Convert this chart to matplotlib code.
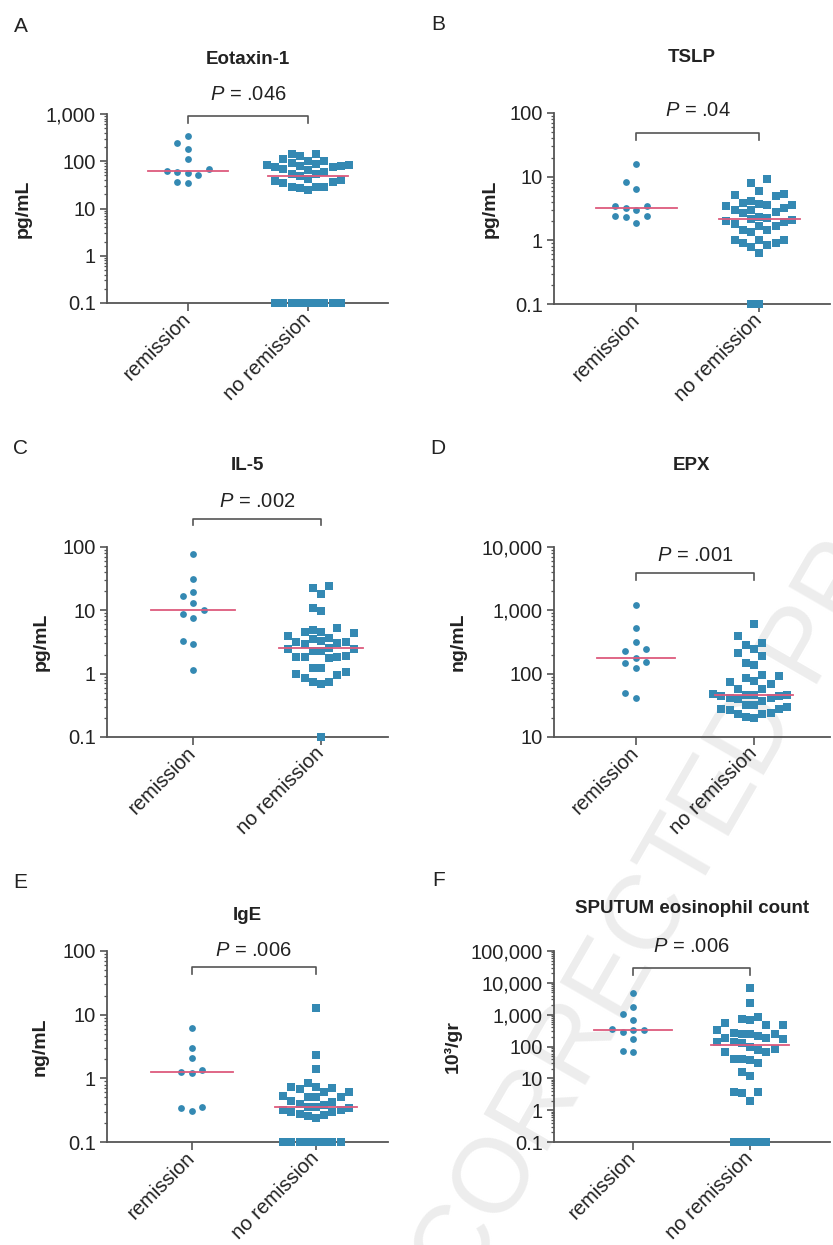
import numpy as np
import matplotlib
matplotlib.use('Agg')
import matplotlib.pyplot as plt
import matplotlib.transforms as mtransforms
from matplotlib.ticker import LogLocator, FuncFormatter, NullFormatter

# data, zeros / undetectable drawn at 0.1
groups = ['remission', 'no remission']

eotaxin_rem = [340, 240, 180, 112, 68, 59, 62, 56, 50, 34, 36]
eotaxin_norem = [141, 141, 128, 101, 91, 101, 109, 78, 78, 82, 82, 89, 70, 76, 76,
                 65, 55, 48, 43, 55, 59, 40, 39, 35, 29, 27, 25, 29, 29, 37,
                 0.1, 0.1, 0.1, 0.1, 0.1, 0.1, 0.1, 0.1, 0.1]

tslp_rem = [15.8, 8.3, 6.5, 3.4, 3.24, 3.4, 2.95, 2.4, 2.32, 2.45, 1.89]
tslp_norem = [9.3, 7.9, 6.0, 5.4, 5.1, 5.0, 3.6, 3.6, 4.1, 3.8, 3.7, 3.4, 3.2, 3.0,
              3.0, 2.8, 2.67, 2.23, 2.29, 2.1, 2.18, 2.0, 1.91, 1.8, 1.7, 1.66, 1.47,
              1.47, 1.36, 1.02, 1.0, 1.02, 0.91, 0.91, 0.86, 0.79, 0.63, 0.1, 0.1]

il5_rem = [78.5, 31.6, 16.9, 19.3, 13.2, 10.2, 8.7, 7.7, 3.26, 2.89, 1.15]
il5_norem = [24.5, 22.6, 18, 10.7, 9.9, 4.85, 4.57, 5.2, 4.57, 4.35, 4.0, 3.14, 3.55,
             3.63, 3.1, 2.92, 3.3, 3.15, 2.44, 2.32, 2.27, 2.44, 2.56, 1.87, 1.78, 1.8,
             1.8, 1.8, 1.21, 1.25, 1.0, 1.07, 0.95, 0.85, 0.73, 0.69, 0.73, 0.1]

epx_rem = [1233, 523, 318, 229, 241, 174, 147, 154, 121, 49, 42]
epx_norem = [618, 391, 307, 279, 244, 213, 191, 145, 135, 92, 95, 84, 77, 73, 69, 58,
             58, 47, 46, 45, 46, 46, 45, 42, 41, 37, 40, 32, 30, 32, 28, 27, 28, 24,
             23, 23, 20, 21]

ige_rem = [6.2, 2.98, 2.12, 1.26, 1.2, 1.37, 0.36, 0.31, 0.34]
ige_norem = [12.7, 2.33, 1.42, 0.84, 0.74, 0.74, 0.71, 0.68, 0.60, 0.60, 0.53, 0.50,
             0.50, 0.51, 0.44, 0.42, 0.39, 0.38, 0.36, 0.35, 0.34, 0.32, 0.32, 0.30,
             0.30, 0.28, 0.27, 0.26, 0.24, 0.1, 0.1, 0.1, 0.1, 0.1, 0.1, 0.1, 0.1]

sputum_rem = [4680, 1780, 1070, 696, 338, 292, 322, 346, 168, 72, 69]
sputum_norem = [6720, 2380, 865, 713, 680, 534, 463, 485, 322, 259, 247, 253, 253, 214,
                181, 168, 181, 142, 132, 142, 99, 78, 69, 69, 83, 41, 38, 30, 41, 15.8,
                11.8, 3.8, 3.5, 3.6, 1.94, 0.1, 0.1, 0.1, 0.1, 0.1]

plt.rcParams['font.family'] = ['Liberation Sans', 'DejaVu Sans']
plt.rcParams['mathtext.fontset'] = 'custom'
plt.rcParams['mathtext.rm'] = 'Liberation Sans'
plt.rcParams['mathtext.it'] = 'Liberation Sans:italic'

W, H = 833, 1245
DOT = '#3489b3'
MED = '#dd5a7d'
AXC = '#555555'
TXT = '#222222'

# panel layout in pixels: left, top(ymax), right, bottom(ymin)
panels = [
    dict(letter='A', lpos=(21, 26), title='Eotaxin-1', ylabel='pg/mL', p='.046',
         rem=eotaxin_rem, norem=eotaxin_norem, ylim=(0.1, 1000),
         box=(107, 114, 388, 303), xlim=(-0.675, 1.667),
         ty=1.286, by=0.989, py=1.104, lx=-0.267),
    dict(letter='B', lpos=(438, 25), title='TSLP', ylabel='pg/mL', p='.04',
         rem=tslp_rem, norem=tslp_norem, ylim=(0.1, 100),
         box=(554, 113, 830, 304), xlim=(-0.67, 1.576),
         ty=1.291, by=0.895, py=1.014, lx=-0.202),
    dict(letter='C', lpos=(21, 448), title='IL-5', ylabel='pg/mL', p='.002',
         rem=il5_rem, norem=il5_norem, ylim=(0.1, 100),
         box=(107, 547, 388, 737), xlim=(-0.672, 1.523),
         ty=1.427, by=1.149, py=1.238, lx=-0.203),
    dict(letter='D', lpos=(438, 448), title='EPX', ylabel='ng/mL', p='.001',
         rem=epx_rem, norem=epx_norem, ylim=(10, 10000),
         box=(554, 547, 830, 737), xlim=(-0.689, 1.639),
         ty=1.427, by=0.862, py=0.953, lx=-0.315),
    dict(letter='E', lpos=(20, 882), title='IgE', ylabel='ng/mL', p='.006',
         rem=ige_rem, norem=ige_norem, ylim=(0.1, 100),
         box=(107, 951, 388, 1142), xlim=(-0.681, 1.579),
         ty=1.188, by=0.915, py=1.005, lx=-0.209),
    dict(letter='F', lpos=(439, 881), title='SPUTUM eosinophil count', ylabel='10³/gr',
         p='.006', rem=sputum_rem, norem=sputum_norem, ylim=(0.1, 100000),
         box=(554, 951, 830, 1142), xlim=(-0.676, 1.684),
         ty=1.224, by=0.909, py=1.026, lx=-0.333),
]


def swarm(ax, xc, vals, d, win, half):
    # beeswarm in pixel space: spread rows wide, stack only when too wide
    pts = ax.transData.transform(np.column_stack([np.full(len(vals), xc), vals]))
    ypx = pts[:, 1]
    order = np.argsort(ypx, kind='stable')
    placed = []
    off = np.zeros(len(vals))
    for i in order:
        y = ypx[i]
        for w in (win, d):
            near = [px for px, py in placed if abs(py - y) < w]
            cands = [0.0] + [px + s * d for px in near for s in (-1, 1)]
            cands.sort(key=lambda c: (abs(c), c))
            for c in cands:
                if all(abs(c - px) >= d - 1e-6 for px in near):
                    break
            if abs(c) <= half:
                break
        placed.append((c, y))
        off[i] = c
    scale = ax.transData.transform([[1, 1]])[0, 0] - ax.transData.transform([[0, 1]])[0, 0]
    return xc + off / scale


def fmt(v, pos):
    if v >= 1:
        return f'{int(round(v)):,}'
    return f'{v:g}'


fig = plt.figure(figsize=(W / 100, H / 100), dpi=100)

fig.text(0.805, 0.291, 'UNCORRECTED PROOF', rotation=60, fontsize=76,
         color='#ededed', ha='center', va='center', zorder=-10)

for pn in panels:
    l, t, r, b = pn['box']
    ax = fig.add_axes([l / W, 1 - b / H, (r - l) / W, (b - t) / H])
    ax.patch.set_alpha(0)
    ax.set_yscale('log')
    ax.set_ylim(*pn['ylim'])
    ax.set_xlim(*pn['xlim'])

    for sp in ['top', 'right']:
        ax.spines[sp].set_visible(False)
    for sp in ['left', 'bottom']:
        ax.spines[sp].set_color(AXC)
        ax.spines[sp].set_linewidth(1.3)

    ax.yaxis.set_major_locator(LogLocator(base=10, numticks=20))
    ax.yaxis.set_minor_locator(LogLocator(base=10, subs=np.arange(2, 10), numticks=20))
    ax.yaxis.set_major_formatter(FuncFormatter(fmt))
    ax.yaxis.set_minor_formatter(NullFormatter())
    ax.tick_params(axis='y', which='major', length=5, width=1.2, color=AXC,
                   labelsize=14.5, labelcolor=TXT, pad=3)
    ax.tick_params(axis='y', which='minor', length=2.5, width=0.9, color=AXC)
    ax.tick_params(axis='x', length=5.5, width=1.2, color=AXC, labelsize=14.5,
                   labelcolor=TXT, pad=4)
    ax.set_xticks([0, 1])
    ax.set_xticklabels(groups, rotation=45, ha='right', va='center',
                       rotation_mode='anchor')

    ax.set_ylabel(pn['ylabel'], fontsize=14, fontweight='bold', color=TXT)
    ax.yaxis.set_label_coords(pn['lx'], 0.5)

    # points
    xr = swarm(ax, 0, pn['rem'], 10.5, 9, 24)
    ax.scatter(xr, pn['rem'], marker='o', s=24, color=DOT, linewidths=0,
               clip_on=False, zorder=3)
    xn = swarm(ax, 1, pn['norem'], 8.2, 13, 34)
    ax.scatter(xn, pn['norem'], marker='s', s=27, color=DOT, linewidths=0,
               clip_on=False, zorder=3)

    # medians
    for xc, vals in [(0, pn['rem']), (1, pn['norem'])]:
        m = np.median(vals)
        ax.plot([xc - 0.33, xc + 0.33], [m, m], color=MED, lw=1.3, zorder=4)

    # bracket and p value
    tr = mtransforms.blended_transform_factory(ax.transData, ax.transAxes)
    by = pn['by']
    ax.plot([0, 0, 1, 1], [by - 0.035, by, by, by - 0.035], color=AXC, lw=1.2,
            transform=tr, clip_on=False)
    ax.text(0.5, pn['py'], '$P$ = ' + pn['p'], transform=tr, ha='center',
            va='center', fontsize=14.5, color=TXT)

    ax.text(0.5, pn['ty'], pn['title'], transform=ax.transAxes, ha='center',
            va='center', fontsize=13.5, fontweight='bold', color=TXT)
    fig.text(pn['lpos'][0] / W, 1 - pn['lpos'][1] / H, pn['letter'], fontsize=15,
             ha='center', va='center', color=TXT)

fig.savefig('out.png', dpi=100)
